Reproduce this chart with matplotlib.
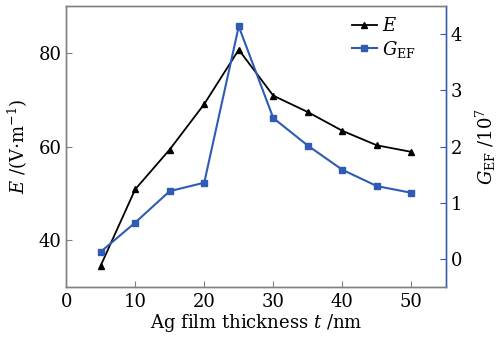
import matplotlib.pyplot as plt

plt.rcParams['font.family'] = 'DejaVu Serif'
plt.rcParams['mathtext.fontset'] = 'dejavuserif'

# Ag film thickness (nm)
t = [5, 10, 15, 20, 25, 30, 35, 40, 45, 50]
# electric field E (V/m)
E = [34.6, 50.9, 59.4, 69.1, 80.7, 70.9, 67.4, 63.4, 60.3, 58.9]
# enhancement factor G_EF (x 10^7)
G = [0.13, 0.65, 1.21, 1.36, 4.14, 2.51, 2.02, 1.59, 1.30, 1.18]

blue = '#2f5bb4'

fig, ax = plt.subplots(figsize=(5.01, 3.42), dpi=100)
fig.subplots_adjust(left=0.132, right=0.890, top=0.982, bottom=0.160)
ax2 = ax.twinx()

l1, = ax.plot(t, E, color='black', marker='^', markersize=5, linewidth=1.3, label='$E$')
l2, = ax2.plot(t, G, color=blue, marker='s', markersize=4.5, linewidth=1.5,
               label=r'$G_{\mathrm{EF}}$')

ax.set_xlim(0, 55)
ax.set_ylim(30, 90)
ax.set_xticks([0, 10, 20, 30, 40, 50])
ax.set_yticks([40, 60, 80])
ax2.set_ylim(-0.5, 4.5)
ax2.set_yticks([0, 1, 2, 3, 4])

for a in (ax, ax2):
    for s in a.spines.values():
        s.set_color('#808080')
        s.set_linewidth(1.0)
ax2.spines['right'].set_color(blue)
ax.tick_params(direction='in', length=4, labelsize=13, color='#808080')
ax2.tick_params(axis='y', direction='in', length=4, labelsize=13, color=blue)
ax.tick_params(axis='x', pad=4)

ax.set_xlabel('Ag film thickness $t$ /nm', fontsize=13, labelpad=1)
ax.set_ylabel(r'$E$ /(V$\cdot$m$^{-1}$)', fontsize=13, labelpad=6)
ax2.set_ylabel(r'$G_{\mathrm{EF}}$ /10$^7$', fontsize=13, labelpad=8)

ax.legend(handles=[l1, l2], loc='upper right', frameon=False, fontsize=13,
          handlelength=1.4, handletextpad=0.3, borderaxespad=0.2,
          labelspacing=0.2, bbox_to_anchor=(0.95, 1.0))

fig.savefig('out.png', dpi=100)
